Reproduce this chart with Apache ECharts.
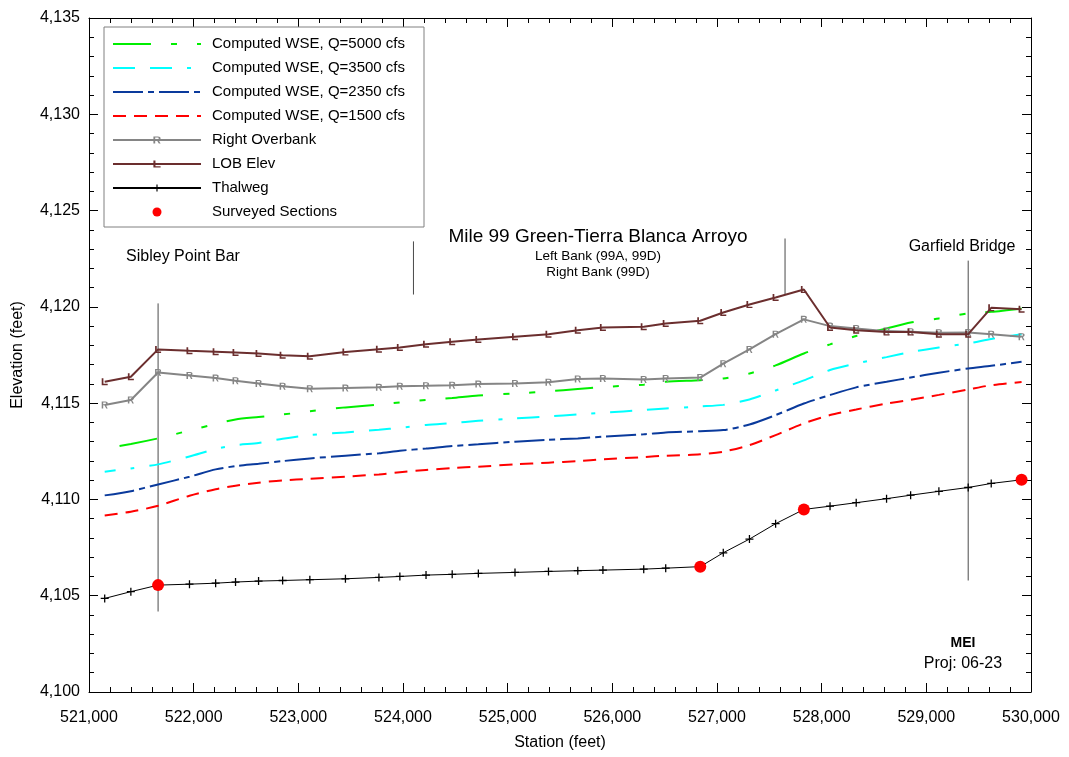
<!DOCTYPE html>
<html><head><meta charset="utf-8">
<script src="https://cdn.jsdelivr.net/npm/echarts@6/dist/echarts.min.js"></script>
<style>html,body{margin:0;padding:0;background:#fff}#c{width:1069px;height:757px}</style>
</head><body><div id="c"></div>
<script>
// ---------- data ----------
const stations = [521150, 521400, 521660, 521960, 522210, 522400, 522620, 522850, 523110, 523450, 523770, 523970, 524220, 524470, 524720, 525070, 525390, 525670, 525910, 526300, 526510, 526840, 527060, 527310, 527560, 527830, 528080, 528330, 528620, 528850, 529120, 529400, 529620, 529910];
const thalweg = [4104.86, 4105.21, 4105.55, 4105.60, 4105.65, 4105.71, 4105.76, 4105.79, 4105.83, 4105.88, 4105.95, 4106.00, 4106.07, 4106.11, 4106.16, 4106.21, 4106.26, 4106.30, 4106.33, 4106.38, 4106.43, 4106.51, 4107.23, 4107.94, 4108.74, 4109.48, 4109.65, 4109.83, 4110.04, 4110.22, 4110.42, 4110.62, 4110.83, 4111.02];
const lobElev = [4116.11, 4116.37, 4117.79, 4117.72, 4117.67, 4117.63, 4117.58, 4117.49, 4117.44, 4117.65, 4117.80, 4117.89, 4118.06, 4118.19, 4118.31, 4118.45, 4118.58, 4118.79, 4118.93, 4118.97, 4119.14, 4119.28, 4119.71, 4120.12, 4120.49, 4120.90, 4118.93, 4118.79, 4118.69, 4118.69, 4118.58, 4118.58, 4119.95, 4119.88];
const rightOverbank = [4114.90, 4115.16, 4116.59, 4116.44, 4116.30, 4116.16, 4116.02, 4115.88, 4115.75, 4115.78, 4115.82, 4115.88, 4115.90, 4115.93, 4115.99, 4116.02, 4116.09, 4116.25, 4116.28, 4116.23, 4116.28, 4116.33, 4117.05, 4117.79, 4118.58, 4119.35, 4119.00, 4118.88, 4118.74, 4118.71, 4118.66, 4118.67, 4118.58, 4118.45];
const wse5000 = [4112.65, 4112.88, 4113.17, 4113.58, 4113.92, 4114.15, 4114.28, 4114.41, 4114.58, 4114.78, 4114.93, 4115.04, 4115.16, 4115.27, 4115.40, 4115.50, 4115.61, 4115.74, 4115.84, 4115.96, 4116.11, 4116.19, 4116.28, 4116.54, 4116.96, 4117.58, 4118.05, 4118.49, 4118.88, 4119.19, 4119.40, 4119.66, 4119.74, 4119.92];
const wse3500 = [4111.44, 4111.61, 4111.82, 4112.23, 4112.62, 4112.82, 4112.93, 4113.15, 4113.34, 4113.48, 4113.62, 4113.72, 4113.87, 4113.97, 4114.08, 4114.21, 4114.31, 4114.41, 4114.50, 4114.64, 4114.72, 4114.83, 4114.91, 4115.19, 4115.66, 4116.18, 4116.72, 4117.06, 4117.39, 4117.65, 4117.89, 4118.10, 4118.33, 4118.58];
const wse2350 = [4110.21, 4110.43, 4110.78, 4111.18, 4111.56, 4111.73, 4111.85, 4111.99, 4112.13, 4112.27, 4112.40, 4112.53, 4112.64, 4112.77, 4112.86, 4113.00, 4113.10, 4113.17, 4113.26, 4113.38, 4113.48, 4113.54, 4113.60, 4113.89, 4114.38, 4114.98, 4115.42, 4115.82, 4116.11, 4116.33, 4116.58, 4116.80, 4116.94, 4117.15];
const wse1500 = [4109.17, 4109.36, 4109.67, 4110.19, 4110.53, 4110.71, 4110.87, 4110.99, 4111.07, 4111.18, 4111.30, 4111.41, 4111.53, 4111.63, 4111.70, 4111.82, 4111.91, 4111.99, 4112.08, 4112.20, 4112.27, 4112.34, 4112.48, 4112.82, 4113.34, 4113.95, 4114.38, 4114.67, 4114.98, 4115.17, 4115.43, 4115.71, 4115.93, 4116.10];
const surveyedStations = [521660, 526840, 527830, 529910];
const surveyedElev = [4105.55, 4106.51, 4109.48, 4111.02];
// vertical reference lines
const refStations = [521660, 524100, 527650, 529400];
const refTop = [4120.18, 4123.40, 4123.55, 4122.40];
const refBottom = [4104.18, 4120.64, 4120.64, 4105.79];
// annotation texts
const noteTexts = ['Sibley Point Bar', 'Garfield Bridge', 'Proj: 06-23'];
const noteStations = [521898, 529341, 529350];
const noteElev = [4122.62, 4123.14, 4101.50];
const titleLines = ['Mile 99 Green-Tierra Blanca Arroyo', 'Left Bank (99A, 99D)', 'Right Bank (99D)'];
const titleStation = 525863, titleElev = 4122.80;
const logoText = 'MEI', logoStation = 529350, logoElev = 4102.55;
const names = ['Computed WSE, Q=5000 cfs', 'Computed WSE, Q=3500 cfs', 'Computed WSE, Q=2350 cfs', 'Computed WSE, Q=1500 cfs', 'Right Overbank', 'LOB Elev', 'Thalweg', 'Surveyed Sections'];

// ---------- helpers ----------
const FONT = '"Liberation Sans", Arial, sans-serif';
const zip = (xs, ys) => xs.map((x, i) => [x, ys[i]]);
const fmt = v => String(v).replace(/\B(?=(\d{3})+(?!\d))/g, ',');
const R_PATH = 'path://M0,0 H5 C7,0 8,1 8,2.5 C8,4 7,5 5.6,5.1 L8,10 H6 L3.8,5.2 H2 V10 H0 Z M2,1.5 V3.8 H5 C5.7,3.8 6,3.3 6,2.6 C6,2 5.7,1.5 5,1.5 Z';
const L_PATH = 'path://M0,0 H2 V8 H7 V10 H0 Z';
const PLUS_PATH = 'path://M4.2,0 H5.8 V4.2 H10 V5.8 H5.8 V10 H4.2 V5.8 H0 V4.2 H4.2 Z';

const series = [];
function wse(name, vals, color, dash, offset) {
  series.push({ name, type: 'line', data: zip(stations, vals), symbol: 'none', smooth: 0.25,
    lineStyle: { color, width: 2, type: dash, dashOffset: offset || 0 }, itemStyle: { color }, z: 3 });
}
wse(names[0], wse5000, '#00ee00', [38, 20, 6, 20, 6, 20], 95);
wse(names[1], wse3500, '#00ffff', [22, 15, 22, 15, 4, 15], 48);
wse(names[2], wse2350, '#0a3a9c', [30, 5, 6, 5], 0);
wse(names[3], wse1500, '#ff0000', [13, 8], 0);
series.push({ name: names[4], type: 'line', data: zip(stations, rightOverbank), symbol: R_PATH, symbolSize: [6, 7],
  lineStyle: { color: '#858585', width: 2 }, itemStyle: { color: '#858585' }, z: 4 });
series.push({ name: names[5], type: 'line', data: zip(stations, lobElev), symbol: L_PATH, symbolSize: [6, 7],
  lineStyle: { color: '#6b2e2e', width: 2 }, itemStyle: { color: '#6b2e2e' }, z: 5 });
series.push({ name: names[6], type: 'line', data: zip(stations, thalweg), symbol: PLUS_PATH, symbolSize: 8,
  lineStyle: { color: '#000', width: 1 }, itemStyle: { color: '#000' }, z: 5 });
series.push({ name: names[7], type: 'scatter', data: zip(surveyedStations, surveyedElev), symbol: 'circle', symbolSize: 12,
  itemStyle: { color: '#ff0000', opacity: 1 }, z: 6 });
refStations.forEach((s, i) => {
  series.push({ name: 'ref' + i, type: 'line', data: [[s, refTop[i]], [s, refBottom[i]]], symbol: 'none', silent: true,
    lineStyle: { color: '#4a4a4a', width: 1 }, z: 2 });
});
const noteData = noteTexts.map((t, i) => ({ value: [noteStations[i], noteElev[i]],
  label: { formatter: t, fontSize: 16 } }));
noteData.push({ value: [titleStation, titleElev], label: {
  formatter: '{a|' + titleLines[0] + '}\n{b|' + titleLines[1] + '}\n{b|' + titleLines[2] + '}',
  rich: { a: { fontSize: 19, lineHeight: 22, fontFamily: FONT, color: '#000' }, b: { fontSize: 13.5, lineHeight: 16, fontFamily: FONT, color: '#000' } } } });
noteData.push({ value: [logoStation, logoElev], label: { formatter: logoText, fontSize: 14, fontWeight: 'bold' } });
series.push({ name: 'notes', type: 'scatter', data: noteData, symbolSize: 0, silent: true, z: 7,
  itemStyle: { color: '#000', opacity: 1 },
  label: { show: true, position: 'inside', color: '#000', textBorderWidth: 0, fontFamily: FONT, align: 'center', verticalAlign: 'middle' } });

const tickCommon = {
  axisLine: { show: true, onZero: false, lineStyle: { color: '#000', width: 1 } },
  axisTick: { show: true, inside: true, length: 9, lineStyle: { color: '#000' } },
  minorTick: { show: true, splitNumber: 5, length: 5, lineStyle: { color: '#000' } },
  splitLine: { show: false }, minorSplitLine: { show: false }
};
const xBase = { type: 'value', min: 521000, max: 530000, interval: 1000 };
const yBase = { type: 'value', min: 4100, max: 4135, interval: 5 };
const hideSym = { opacity: 0 };

const option = {
  animation: false,
  backgroundColor: '#fff',
  grid: { left: 89, right: 38, top: 18, bottom: 65, containLabel: false },
  legend: {
    orient: 'vertical', left: 104, top: 27, padding: [9, 19, 7, 8], itemGap: 8,
    itemWidth: 88, itemHeight: 9, backgroundColor: '#fff', borderColor: '#808080', borderWidth: 1,
    textStyle: { fontFamily: FONT, fontSize: 15, color: '#000', lineHeight: 16, padding: [0, 0, 0, 6] },
    data: [
      { name: names[0], itemStyle: hideSym, lineStyle: { dashOffset: 0 } },
      { name: names[1], itemStyle: hideSym, lineStyle: { dashOffset: 0 } },
      { name: names[2], itemStyle: hideSym }, { name: names[3], itemStyle: hideSym },
      names[4], names[5], names[6], { name: names[7], icon: 'circle' }
    ]
  },
  xAxis: [
    Object.assign({}, xBase, tickCommon, { position: 'bottom',
      axisLabel: { formatter: fmt, fontFamily: FONT, fontSize: 16, color: '#000', margin: 18 },
      name: 'Station (feet)', nameLocation: 'middle', nameGap: 43,
      nameTextStyle: { fontFamily: FONT, fontSize: 16, color: '#000' } }),
    Object.assign({}, xBase, tickCommon, { position: 'top', axisLabel: { show: false } })
  ],
  yAxis: [
    Object.assign({}, yBase, tickCommon, { position: 'left',
      axisLabel: { formatter: fmt, fontFamily: FONT, fontSize: 16, color: '#000', margin: 9 },
      name: 'Elevation (feet)', nameLocation: 'middle', nameGap: 63,
      nameTextStyle: { fontFamily: FONT, fontSize: 16, color: '#000' } }),
    Object.assign({}, yBase, tickCommon, { position: 'right', axisLabel: { show: false } })
  ],
  series
};
const chart = echarts.init(document.getElementById('c'), null, { renderer: 'canvas' });
chart.setOption(option);
</script>
</body></html>
